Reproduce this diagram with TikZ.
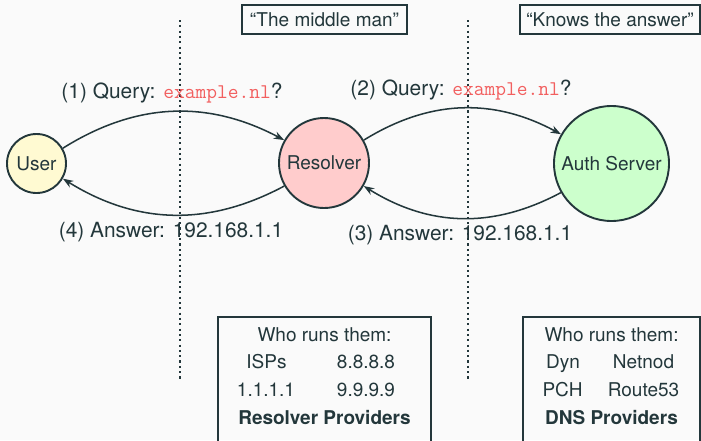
\documentclass[tikz,border=0pt]{standalone}
\usepackage{fontspec}
\setmainfont{TeX Gyre Heros}
\usetikzlibrary{arrows.meta}
\definecolor{ink}{HTML}{23373B}
\definecolor{paper}{HTML}{FAFAFA}
\definecolor{userfill}{HTML}{FFFAD2}
\definecolor{resfill}{HTML}{FFCCCC}
\definecolor{authfill}{HTML}{CCFFCC}
\definecolor{domain}{HTML}{F25F5F}
\newcommand{\dom}[1]{\textcolor{domain}{\ttfamily #1}}
\tikzset{
  every node/.style={text=ink},
  party/.style={circle, draw=ink, line width=1pt, inner sep=0pt,
    font=\fontsize{10}{12}\selectfont},
  msg/.style={-{Stealth[length=5.5pt,width=4pt]}, draw=ink, line width=0.8pt},
  msglabel/.style={font=\fontsize{11}{13.6}\selectfont, inner sep=0pt},
  rolebox/.style={draw=ink, line width=0.8pt, inner sep=0pt,
    font=\fontsize{10}{12}\selectfont},
  infobox/.style={draw=ink, line width=0.8pt, inner sep=0pt},
  infotext/.style={font=\fontsize{10}{12}\selectfont, inner sep=0pt,
    text height=7pt, text depth=2pt},
  divider/.style={draw=ink, line width=1.1pt, dash pattern=on 1.1pt off 1.7pt},
}
\begin{document}
\begin{tikzpicture}[x=0.5263pt, y=-0.5263pt]
  \fill[paper] (0,0) rectangle (701,440);
  \clip (0,0) rectangle (701,440);

  % dividers between the three parties
  \coordinate (d1top) at (180,20);
  \coordinate (d1bot) at (180,379);
  \coordinate (d2top) at (468,20);
  \coordinate (d2bot) at (468,379);
  \draw[divider] (d1top) -- (d1bot);
  \draw[divider] (d2top) -- (d2bot);

  % parties
  \node[party, fill=userfill, minimum size=59*0.5263pt] (user) at (36.5,163.5) {User};
  \node[party, fill=resfill, minimum size=90*0.5263pt] (resolver) at (324,163) {Resolver};
  \node[party, fill=authfill, minimum size=115*0.5263pt] (auth) at (611.5,163.5) {Auth Server};

  % role captions
  \node[rolebox, minimum width=165*0.5263pt, minimum height=29*0.5263pt] (rolemid) at (324.5,19.5) {“The middle man”};
  \node[rolebox, minimum width=180*0.5263pt, minimum height=29*0.5263pt] (roleauth) at (610,19.5) {“Knows the answer”};

  % query / answer flow
  \draw[msg] (user) to[bend left=30] (resolver);
  \draw[msg] (resolver) to[bend left=30] (auth);
  \draw[msg] (auth) to[bend left=30] (resolver);
  \draw[msg] (resolver) to[bend left=30] (user);

  \node[msglabel] (q1) at (172,93) {(1) Query: \dom{example.nl}?};
  \node[msglabel] (q2) at (461,90) {(2) Query: \dom{example.nl}?};
  \node[msglabel] (a3) at (460,235) {(3) Answer: 192.168.1.1};
  \node[msglabel] (a4) at (171,232) {(4) Answer: 192.168.1.1};

  % operator boxes
  \node[infobox, minimum width=213*0.5263pt, minimum height=132*0.5263pt, anchor=north] (resbox) at (324.5,316) {};
  \node[infobox, minimum width=177*0.5263pt, minimum height=132*0.5263pt, anchor=north] (dnsbox) at (611.5,316) {};

  \node[infotext] (rwho) at (324.5,337) {Who runs them:};
  \node[infotext] (risp) at (266.5,364) {ISPs};
  \node[infotext] (rgoo) at (366,364) {8.8.8.8};
  \node[infotext] (rcf)  at (266,392) {1.1.1.1};
  \node[infotext] (rq9)  at (366,392) {9.9.9.9};
  \node[infotext] (rtitle) at (324.5,420) {\bfseries Resolver Providers};

  \node[infotext] (dwho) at (611.5,337) {Who runs them:};
  \node[infotext] (ddyn) at (563,364) {Dyn};
  \node[infotext] (dnet) at (643.5,364) {Netnod};
  \node[infotext] (dpch) at (562.5,392) {PCH};
  \node[infotext] (dr53) at (643.5,392) {Route53};
  \node[infotext] (dtitle) at (611.5,420) {\bfseries DNS Providers};
\end{tikzpicture}
\end{document}
